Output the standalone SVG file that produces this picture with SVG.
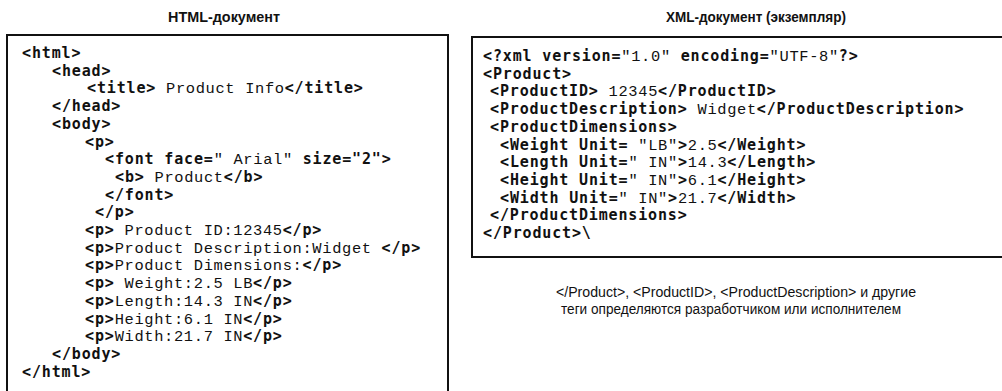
<svg xmlns="http://www.w3.org/2000/svg" width="1002" height="391" viewBox="0 0 1002 391">
  <style>
    .bg { fill: #ffffff; }
    .frame { fill: none; stroke: #111111; stroke-width: 2; }
    .head { font-family: "Liberation Sans", Arial, sans-serif; font-weight: bold; font-size: 14px; fill: #111111; }
    .code { font-family: "Liberation Mono", "DejaVu Sans Mono", monospace; font-size: 15.4px; letter-spacing: 0.65px; fill: #111111; white-space: pre; }
    .t { font-family: "DejaVu Sans Mono", "Liberation Mono", monospace; font-weight: bold; font-size: 15px; letter-spacing: 0.85px; }
    .note { font-family: "Liberation Sans", Arial, sans-serif; font-size: 14px; fill: #111111; }
  </style>
  <rect class="bg" x="0" y="0" width="1002" height="391"/>

  <!-- HTML document panel -->
  <g id="html-doc">
    <text class="head" x="224" y="22" text-anchor="middle" textLength="112" lengthAdjust="spacingAndGlyphs">HTML-документ</text>
    <rect class="frame" x="7" y="35" width="441" height="370"/>
    <g class="code" xml:space="preserve">
      <text x="22" y="58"><tspan class="t">&lt;html&gt;</tspan></text>
      <text x="52" y="75.7"><tspan class="t">&lt;head&gt;</tspan></text>
      <text x="87" y="93.4"><tspan class="t">&lt;title&gt;</tspan> Product Info<tspan class="t">&lt;/title&gt;</tspan></text>
      <text x="52" y="111.1"><tspan class="t">&lt;/head&gt;</tspan></text>
      <text x="52" y="128.8"><tspan class="t">&lt;body&gt;</tspan></text>
      <text x="85" y="146.5"><tspan class="t">&lt;p&gt;</tspan></text>
      <text x="105" y="164.2"><tspan class="t">&lt;font face=</tspan>" Arial" <tspan class="t">size="2"&gt;</tspan></text>
      <text x="115" y="181.9"><tspan class="t">&lt;b&gt;</tspan> Product<tspan class="t">&lt;/b&gt;</tspan></text>
      <text x="105" y="199.6"><tspan class="t">&lt;/font&gt;</tspan></text>
      <text x="95" y="217.3"><tspan class="t">&lt;/p&gt;</tspan></text>
      <text x="85" y="235"><tspan class="t">&lt;p&gt;</tspan> Product ID:12345<tspan class="t">&lt;/p&gt;</tspan></text>
      <text x="85" y="252.7"><tspan class="t">&lt;p&gt;</tspan>Product Description:Widget <tspan class="t">&lt;/p&gt;</tspan></text>
      <text x="85" y="270.4"><tspan class="t">&lt;p&gt;</tspan>Product Dimensions:<tspan class="t">&lt;/p&gt;</tspan></text>
      <text x="85" y="288.1"><tspan class="t">&lt;p&gt;</tspan> Weight:2.5 LB<tspan class="t">&lt;/p&gt;</tspan></text>
      <text x="85" y="305.8"><tspan class="t">&lt;p&gt;</tspan>Length:14.3 IN<tspan class="t">&lt;/p&gt;</tspan></text>
      <text x="85" y="323.5"><tspan class="t">&lt;p&gt;</tspan>Height:6.1 IN<tspan class="t">&lt;/p&gt;</tspan></text>
      <text x="85" y="341.2"><tspan class="t">&lt;p&gt;</tspan>Width:21.7 IN<tspan class="t">&lt;/p&gt;</tspan></text>
      <text x="52" y="358.9"><tspan class="t">&lt;/body&gt;</tspan></text>
      <text x="22" y="376.6"><tspan class="t">&lt;/html&gt;</tspan></text>
    </g>
  </g>

  <!-- XML instance document panel -->
  <g id="xml-doc">
    <text class="head" x="756" y="22" text-anchor="middle" textLength="180" lengthAdjust="spacingAndGlyphs">XML-документ (экземпляр)</text>
    <rect class="frame" x="472" y="37" width="540" height="220"/>
    <g class="code" xml:space="preserve">
      <text x="483" y="61"><tspan class="t">&lt;?xml version=</tspan>"1.0" <tspan class="t">encoding=</tspan>"UTF-8"<tspan class="t">?&gt;</tspan></text>
      <text x="483" y="78.7"><tspan class="t">&lt;Product&gt;</tspan></text>
      <text x="490" y="96.4"><tspan class="t">&lt;ProductID&gt;</tspan> 12345<tspan class="t">&lt;/ProductID&gt;</tspan></text>
      <text x="490" y="114.1"><tspan class="t">&lt;ProductDescription&gt;</tspan> Widget<tspan class="t">&lt;/ProductDescription&gt;</tspan></text>
      <text x="490" y="131.8"><tspan class="t">&lt;ProductDimensions&gt;</tspan></text>
      <text x="500" y="149.5"><tspan class="t">&lt;Weight Unit=</tspan> "LB"<tspan class="t">&gt;</tspan>2.5<tspan class="t">&lt;/Weight&gt;</tspan></text>
      <text x="500" y="167.2"><tspan class="t">&lt;Length Unit=</tspan>" IN"<tspan class="t">&gt;</tspan>14.3<tspan class="t">&lt;/Length&gt;</tspan></text>
      <text x="500" y="184.9"><tspan class="t">&lt;Height Unit=</tspan>" IN"<tspan class="t">&gt;</tspan>6.1<tspan class="t">&lt;/Height&gt;</tspan></text>
      <text x="500" y="202.6"><tspan class="t">&lt;Width Unit=</tspan>" IN"<tspan class="t">&gt;</tspan>21.7<tspan class="t">&lt;/Width&gt;</tspan></text>
      <text x="490" y="220.3"><tspan class="t">&lt;/ProductDimensions&gt;</tspan></text>
      <text x="483" y="238"><tspan class="t">&lt;/Product&gt;\</tspan></text>
    </g>
    <text class="note" x="736" y="297" text-anchor="middle" textLength="360" lengthAdjust="spacingAndGlyphs">&lt;/Product&gt;, &lt;ProductID&gt;, &lt;ProductDescription&gt; и другие</text>
    <text class="note" x="731" y="314" text-anchor="middle" textLength="340" lengthAdjust="spacingAndGlyphs">теги определяются разработчиком или исполнителем</text>
  </g>
</svg>
